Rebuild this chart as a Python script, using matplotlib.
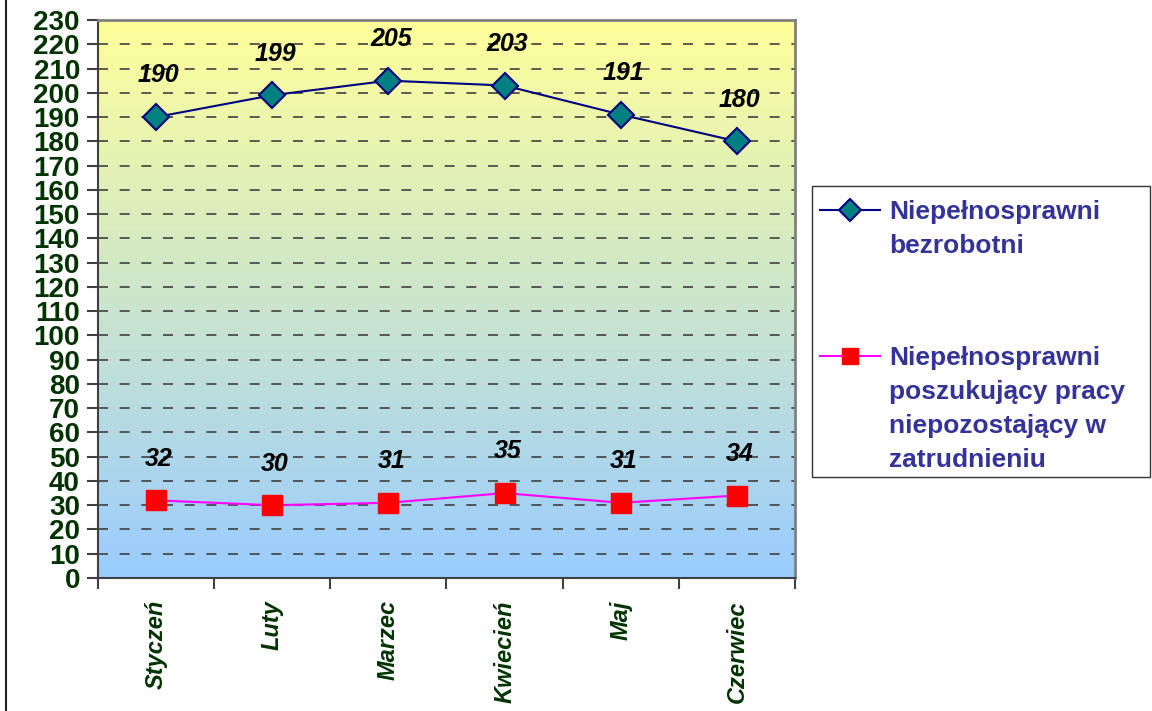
import numpy as np
import matplotlib.pyplot as plt
from matplotlib.lines import Line2D
from matplotlib.patches import Rectangle
from matplotlib.colors import LinearSegmentedColormap

plt.rcParams['font.family'] = ['Liberation Sans', 'DejaVu Sans']

months = ["Styczeń", "Luty", "Marzec", "Kwiecień", "Maj", "Czerwiec"]
bezrobotni = [190, 199, 205, 203, 191, 180]
poszukujacy = [32, 30, 31, 35, 31, 34]
label_1 = "Niepełnosprawni\nbezrobotni"
label_2 = "Niepełnosprawni\nposzukujący pracy\nniepozostający w\nzatrudnieniu"

W, H = 1152, 711
fig = plt.figure(figsize=(W / 100, H / 100), dpi=100)
ax = fig.add_axes([98 / W, 1 - 578 / H, 697 / W, 558 / H])

# gradient background: yellow at top -> light blue at bottom
cmap = LinearSegmentedColormap.from_list("bg", ["#99CCFF", "#FFFF99"])
grad = np.linspace(0, 1, 256).reshape(-1, 1)
ax.imshow(grad, cmap=cmap, origin="lower", aspect="auto",
          extent=[0, 1, 0, 1], transform=ax.transAxes, zorder=0)

x = np.arange(len(months))
ax.plot(x, bezrobotni, color="#000080", lw=1.5, marker="D", ms=13,
        mfc="#008080", mec="#000080", mew=1.5, zorder=3)
ax.plot(x, poszukujacy, color="#FF00FF", lw=1.5, marker="s", ms=14,
        mfc="#FF0000", mec="#FF0000", zorder=3)

for xi, v in zip(x, bezrobotni):
    ax.annotate(str(v), (xi, v), xytext=(2, 30), textcoords="offset points",
                ha="center", va="center", fontsize=18, fontweight="bold",
                fontstyle="italic", color="black")
for xi, v in zip(x, poszukujacy):
    ax.annotate(str(v), (xi, v), xytext=(2, 30), textcoords="offset points",
                ha="center", va="center", fontsize=18, fontweight="bold",
                fontstyle="italic", color="black")

ax.set_xlim(-0.5, len(months) - 0.5)
ax.set_ylim(0, 230)
ax.set_yticks(np.arange(0, 231, 10))
for yv in np.arange(10, 230, 10):
    ax.axhline(yv, color="#404040", lw=1.2, ls=(0, (6, 7)), zorder=1)

ax.set_xticks(x)
ax.set_xticklabels(months, rotation=90, fontsize=17, fontweight="bold",
                   fontstyle="italic", color="#003300")
ax.set_xticks(np.arange(-0.5, len(months)), minor=True)
ax.tick_params(axis="x", which="major", length=0, pad=16)
ax.tick_params(axis="x", which="minor", length=8, width=1.5, color="#404040",
               direction="out")
ax.tick_params(axis="y", length=8, width=1.5, color="#404040", pad=5,
               labelsize=20, labelcolor="#003300")
for lab in ax.get_yticklabels():
    lab.set_fontweight("bold")

for side in ["left", "bottom"]:
    ax.spines[side].set_color("#404040")
    ax.spines[side].set_linewidth(1.5)
for side in ["top", "right"]:
    ax.spines[side].set_color("#808080")
    ax.spines[side].set_linewidth(2)


def px(px_x, px_y):
    # figure pixel (from top-left) -> figure fraction
    return px_x / W, 1 - px_y / H


# legend box drawn in figure pixels
fig.patches.append(Rectangle(px(812, 477), (1150 - 812) / W, (477 - 186) / H,
                             transform=fig.transFigure, fill=False,
                             edgecolor="#333333", lw=1))
entries = [
    (label_1, 210, dict(color="#000080", marker="D", ms=11, mfc="#008080",
                        mec="#000080", mew=1.5)),
    (label_2, 356, dict(color="#FF00FF", marker="s", ms=12, mfc="#FF0000",
                        mec="#FF0000")),
]
for text, ypx, style in entries:
    (x0, y0), (x1, _) = px(820, ypx), px(880, ypx)
    fig.add_artist(Line2D([x0, (x0 + x1) / 2, x1], [y0, y0, y0], lw=1.5,
                          markevery=[1], transform=fig.transFigure, **style))
    for i, line in enumerate(text.split("\n")):
        fig.text(*px(889, ypx + 2 + 34 * i), line, ha="left", va="center",
                 fontsize=19, fontweight="bold", color="#333399")

# left border of the chart frame
fig.add_artist(Line2D([6 / W, 6 / W], [0, 1], color="#222222", lw=1.5,
                      transform=fig.transFigure))

fig.savefig("out.png", dpi=100)
